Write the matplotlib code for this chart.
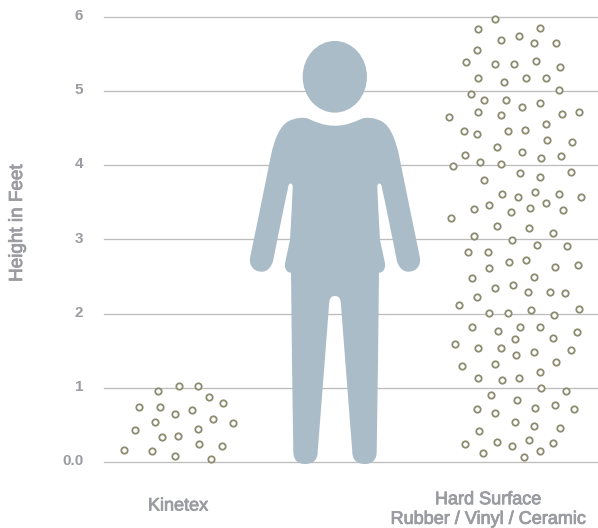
import matplotlib
matplotlib.use("Agg")
import matplotlib.patheffects as pe
import matplotlib.pyplot as plt
import numpy as np
from matplotlib.patches import Ellipse, PathPatch
from matplotlib.path import Path
from matplotlib.transforms import ScaledTranslation

plt.rcParams['font.family'] = ['Liberation Sans', 'DejaVu Sans']

GREY = '#9b9ca1'
FIGURE_BLUE = '#aabcc7'
DOT = '#8b8c6f'

tick_values = [0, 1, 2, 3, 4, 5, 6]
tick_labels = ['0.0', '1', '2', '3', '4', '5', '6']

kinetex_x = [158, 179.3, 197.7, 209.3, 223, 139.3, 160.3, 174.7, 192, 154.7, 213,
             233.3, 135.3, 197.7, 162, 178, 198.7, 222, 124, 151.7, 175.3, 211]
kinetex_h = [0.956, 1.02, 1.02, 0.875, 0.79, 0.737, 0.737, 0.646, 0.704, 0.543, 0.575,
             0.529, 0.427, 0.448, 0.333, 0.354, 0.246, 0.211, 0.158, 0.144, 0.077, 0.04]

hard_x = [494.7, 478.3, 540, 500.7, 518.7, 534, 556.3, 477.3, 466, 494.7, 514, 536.3, 560,
          478.3, 504, 526.3, 545.7, 558.7, 471.3, 484.3, 506.3, 521.7, 540, 478.3, 449,
          500.7, 562.3, 579, 545.7, 464.3, 476.7, 508.3, 525.3, 547, 571.7, 497, 522.3,
          464.7, 541.3, 560.7, 453, 480.3, 501, 520.3, 540, 571, 484.3, 502.3, 517.7,
          535.3, 559.3, 581, 473.7, 489, 511, 530, 545.7, 563.3, 450.7, 497, 528.7, 553,
          474.3, 512.3, 537.3, 567, 467.7, 487.7, 489, 509.3, 526.3, 554.7, 577.7, 472.3,
          534, 494.7, 513, 528, 550.3, 565, 477.3, 459, 489, 508.3, 530.7, 554, 579,
          472.3, 498.3, 520.3, 540, 577, 514.7, 553, 454.7, 478.3, 500.7, 516, 534, 571,
          462.3, 494.7, 556.3, 540, 477.7, 502.3, 519.3, 541, 565.7, 491, 516.7, 476.7,
          495.3, 535.3, 554.7, 573.7, 514.7, 534, 560, 479, 465.3, 496.7, 511.7, 529.3,
          553.3, 540, 483, 524]
hard_h = [5.962, 5.828, 5.841, 5.684, 5.733, 5.639, 5.639, 5.549, 5.387, 5.356, 5.356, 5.401, 5.324,
          5.172, 5.118, 5.168, 5.168, 5.014, 4.952, 4.879, 4.879, 4.785, 4.831, 4.714, 4.65,
          4.673, 4.691, 4.714, 4.556, 4.458, 4.422, 4.454, 4.475, 4.341, 4.306, 4.246, 4.175,
          4.139, 4.09, 4.121, 3.991, 4.036, 4.013, 3.896, 3.842, 3.91, 3.798, 3.613, 3.569,
          3.636, 3.609, 3.569, 3.403, 3.465, 3.371, 3.417, 3.488, 3.394, 3.286, 3.182, 3.152, 3.088,
          3.048, 2.994, 2.923, 2.905, 2.832, 2.828, 2.617, 2.694, 2.716, 2.626, 2.657, 2.482,
          2.496, 2.339, 2.384, 2.29, 2.29, 2.28, 2.218, 2.114, 2.003, 2.003, 2.051, 1.976, 2.061,
          1.822, 1.768, 1.818, 1.818, 1.747, 1.653, 1.666, 1.589, 1.531, 1.531, 1.437, 1.481, 1.508,
          1.297, 1.324, 1.343, 1.208, 1.135, 1.104, 1.127, 0.993, 0.956, 0.902, 0.831, 0.714,
          0.664, 0.731, 0.772, 0.718, 0.543, 0.489, 0.458, 0.418, 0.242, 0.269, 0.22, 0.292,
          0.26, 0.144, 0.117, 0.071]

# pixel-ish outline of the person, left half only (x, y down from top of image)
person_left = [
    (335, 125.7),
    (323, 125.7), (316, 122), (308.3, 118.7),
    (304, 117), (295, 117.5), (288, 121.5),
    (281, 125.5), (275, 136), (270.7, 156.7),
    (264, 190), (257, 224), (250, 258),
    (249, 267), (255, 271.7), (261.7, 271.7),
    (268, 271.7), (272, 266), (273.3, 260),
    (278, 236), (283, 211), (288.3, 186.7),
    (288.8, 182.5), (292.5, 182.5), (292.7, 186.7),
    (292, 204), (291, 222), (290, 240),
    (288.5, 248), (286.5, 255), (285, 263.3),
    (284.3, 269), (287, 272.7), (291, 272.7),
    (291.5, 332), (292.5, 392), (293.3, 451.7),
    (293.3, 460), (298, 464), (305, 464),
    (313, 464), (317.7, 460), (317.7, 451.7),
    (321.5, 402), (325.5, 352), (329.3, 301.7),
    (330, 297.5), (332, 296), (335, 296),
]


def px_to_feet(py):
    return (462 - py) / 74.25


def person_path():
    left = np.array(person_left, dtype=float)
    right = left[::-1].copy()
    right[:, 0] = 2 * 335 - right[:, 0]
    pts = np.vstack([left, right[1:]])
    pts[:, 1] = px_to_feet(pts[:, 1])
    codes = [Path.MOVETO] + [Path.CURVE4] * (len(pts) - 1)
    return Path(pts, codes)


fig = plt.figure(figsize=(5.98, 5.28), dpi=100)
ax = fig.add_axes([104 / 598, (528 - 462) / 528, (598 - 104) / 598, (462 - 16.5) / 528])
ax.set_xlim(104, 598)
ax.set_ylim(0, 6)

for v in tick_values:
    ax.axhline(v, color='#bdbdbd', lw=0.95, zorder=1, clip_on=False)

ax.add_patch(PathPatch(person_path(), fc=FIGURE_BLUE, ec='none', zorder=2, clip_on=False))
ax.add_patch(Ellipse((334.8, px_to_feet(76.8)), 64.3, 71.7 / 74.25,
                     fc=FIGURE_BLUE, ec='none', zorder=2))

for xs, hs in [(kinetex_x, kinetex_h), (hard_x, hard_h)]:
    ax.plot(xs, hs, 'o', ms=4.6, mfc='white', mec=DOT, mew=1.3, ls='none', zorder=3, clip_on=False)

for s in ax.spines.values():
    s.set_visible(False)
ax.set_xticks([])
ax.set_yticks(tick_values)
ax.set_yticklabels(tick_labels, fontsize=11, fontweight='bold', color=GREY)
ax.tick_params(axis='y', length=0, pad=15)
for lab in ax.get_yticklabels():
    lab.set_transform(lab.get_transform() + ScaledTranslation(0, 1.5 / 72, fig.dpi_scale_trans))

# regular face with a thin stroke sits closer to the original weight than bold
stroke = [pe.withStroke(linewidth=0.6, foreground=GREY)]

ylab = ax.set_ylabel('Height in Feet', fontsize=13.6, color=GREY)
ylab.set_path_effects(stroke)
ax.yaxis.set_label_coords(-78 / 494, px_to_feet(223.5) / 6)

ax.text(178, px_to_feet(506), 'Kinetex', fontsize=13, color=GREY, ha='center', va='center',
        path_effects=stroke)
ax.text(488, px_to_feet(509.5), 'Hard Surface\nRubber / Vinyl / Ceramic', fontsize=13,
        color=GREY, ha='center', va='center', linespacing=1.2, path_effects=stroke)

fig.savefig('out.png', dpi=100)
